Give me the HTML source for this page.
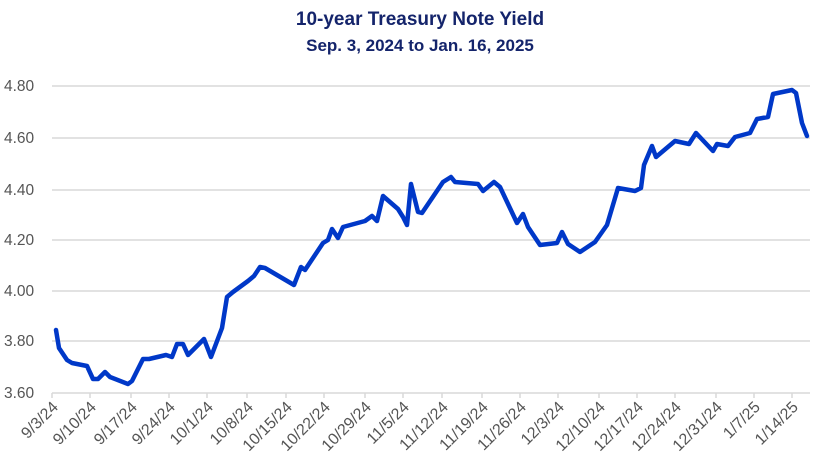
<!DOCTYPE html>
<html><head><meta charset="utf-8"><style>
html,body{margin:0;padding:0;background:#fff;width:840px;height:472px;overflow:hidden}
</style></head><body>
<svg width="840" height="472" xmlns="http://www.w3.org/2000/svg" font-family="Liberation Sans, sans-serif">
<text x="420" y="25" text-anchor="middle" font-size="19" font-weight="bold" fill="#14246b">10-year Treasury Note Yield</text>
<text x="420" y="51" text-anchor="middle" font-size="17" font-weight="bold" fill="#14246b">Sep. 3, 2024 to Jan. 16, 2025</text>
<g stroke="#d9d9d9" stroke-width="1.5">
<line x1="52" x2="810" y1="86" y2="86"/><line x1="52" x2="810" y1="138" y2="138"/>
<line x1="52" x2="810" y1="190" y2="190"/><line x1="52" x2="810" y1="240" y2="240"/>
<line x1="52" x2="810" y1="291" y2="291"/><line x1="52" x2="810" y1="341" y2="341"/>
<line x1="52" x2="810" y1="393" y2="393"/>
</g>
<g font-size="15.5" fill="#555">
<text x="4" y="91">4.80</text><text x="4" y="143">4.60</text><text x="4" y="195">4.40</text>
<text x="4" y="245">4.20</text><text x="4" y="296">4.00</text><text x="4" y="346">3.80</text><text x="4" y="398">3.60</text>
</g>
<g stroke="#d9d9d9" stroke-width="1.5">
<line x1="52" x2="52" y1="393" y2="398"/><line x1="90" x2="90" y1="393" y2="398"/><line x1="131" x2="131" y1="393" y2="398"/><line x1="169" x2="169" y1="393" y2="398"/><line x1="207" x2="207" y1="393" y2="398"/><line x1="247" x2="247" y1="393" y2="398"/><line x1="286" x2="286" y1="393" y2="398"/><line x1="324" x2="324" y1="393" y2="398"/><line x1="365" x2="365" y1="393" y2="398"/><line x1="403" x2="403" y1="393" y2="398"/><line x1="442" x2="442" y1="393" y2="398"/><line x1="482" x2="482" y1="393" y2="398"/><line x1="520" x2="520" y1="393" y2="398"/><line x1="558" x2="558" y1="393" y2="398"/><line x1="599" x2="599" y1="393" y2="398"/><line x1="637" x2="637" y1="393" y2="398"/><line x1="675" x2="675" y1="393" y2="398"/><line x1="716" x2="716" y1="393" y2="398"/><line x1="754" x2="754" y1="393" y2="398"/><line x1="792" x2="792" y1="393" y2="398"/>
</g>
<g font-size="16" fill="#555" text-anchor="end">
<text transform="translate(59,408) rotate(-45)">9/3/24</text>
<text transform="translate(97,408) rotate(-45)">9/10/24</text>
<text transform="translate(138,408) rotate(-45)">9/17/24</text>
<text transform="translate(176,408) rotate(-45)">9/24/24</text>
<text transform="translate(214,408) rotate(-45)">10/1/24</text>
<text transform="translate(254,408) rotate(-45)">10/8/24</text>
<text transform="translate(293,408) rotate(-45)">10/15/24</text>
<text transform="translate(331,408) rotate(-45)">10/22/24</text>
<text transform="translate(372,408) rotate(-45)">10/29/24</text>
<text transform="translate(410,408) rotate(-45)">11/5/24</text>
<text transform="translate(449,408) rotate(-45)">11/12/24</text>
<text transform="translate(489,408) rotate(-45)">11/19/24</text>
<text transform="translate(527,408) rotate(-45)">11/26/24</text>
<text transform="translate(565,408) rotate(-45)">12/3/24</text>
<text transform="translate(606,408) rotate(-45)">12/10/24</text>
<text transform="translate(644,408) rotate(-45)">12/17/24</text>
<text transform="translate(682,408) rotate(-45)">12/24/24</text>
<text transform="translate(723,408) rotate(-45)">12/31/24</text>
<text transform="translate(761,408) rotate(-45)">1/7/25</text>
<text transform="translate(799,408) rotate(-45)">1/14/25</text>
</g>
<polyline fill="none" stroke="#0038c8" stroke-width="4.5" stroke-linejoin="round" stroke-linecap="round" points="56,330 59,348 67,360 72,363 87,366 93,379 98,379 105,372 110,377 128,384 132,381 143,359 149,359 166,355 172,357 177,344 183,344 188,355 204,339 211,357 222,328 227,297 233,292 248,281 254,276 260,267 265,268 294,285 301,267 305,270 323,243 328,240 332,229 338,238 343,227 365,221 372,216 377,221 383,196 398,209 403,217 407,225 411,184 418,212 422,213 443,182 451,177 455,182 478,184 483,191 494,182 500,187 517,223 523,214 528,227 540,245 557,243 562,232 568,244 580,252 595,242 607,225 618,188 635,191 641,188 644,165 652,146 656,157 675,141 689,144 696,133 713,151 717,144 728,146 735,137 750,133 757,119 768,117 773,94 792,90 796,93 802,123 807,136"/>
</svg>
</body></html>
